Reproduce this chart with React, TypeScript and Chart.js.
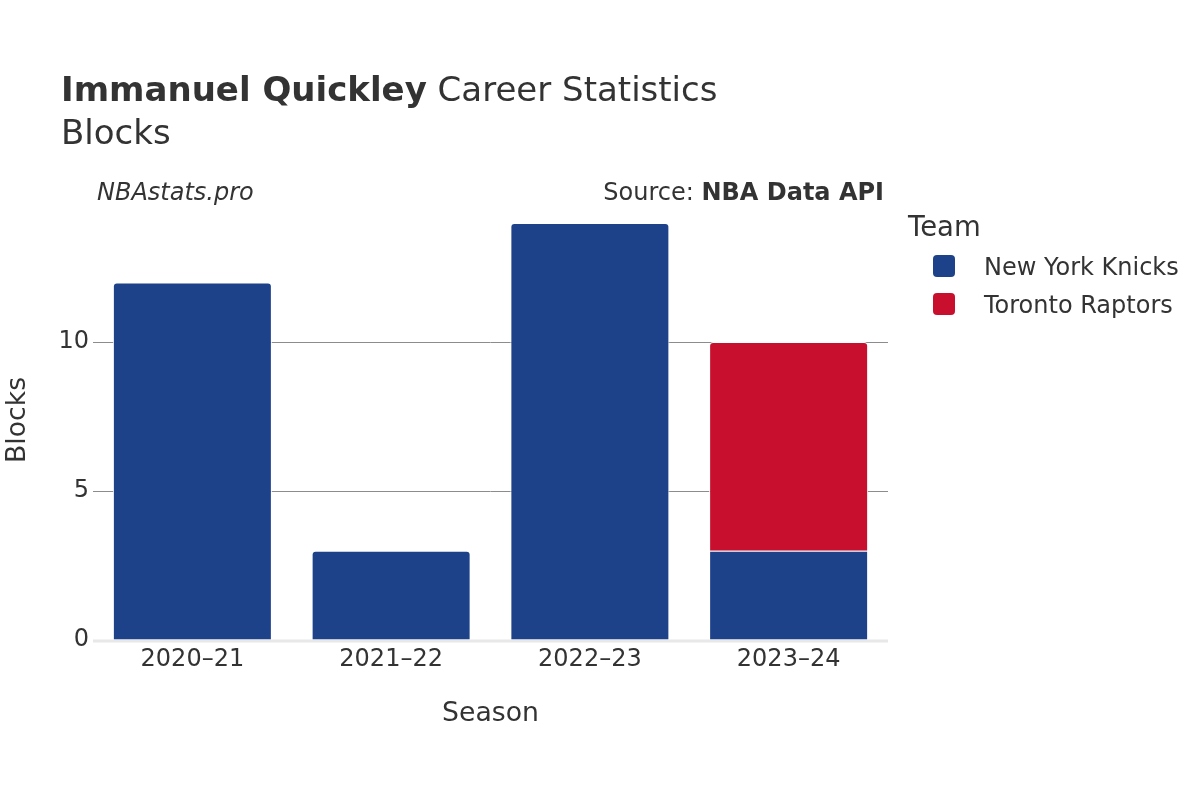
import React, { useEffect, useRef } from "react";
import { Chart, registerables } from "chart.js";

Chart.register(...registerables);

const seasons = ["2020–21", "2021–22", "2022–23", "2023–24"];
const knicksBlocks = [12, 3, 14, 3];
const raptorsBlocks = [0, 0, 0, 7];
const yTicks = [0, 5, 10];
const teamNames = ["New York Knicks", "Toronto Raptors"];
const teamColors = ["#1d428a", "#c8102e"];

const FONT = "'DejaVu Sans', sans-serif";
const TEXT = "#333333";

const overlay = {
  id: "overlay",
  beforeDatasetsDraw(chart: any) {
    const { ctx, chartArea } = chart;
    const y0 = chart.scales.y.getPixelForValue(0);
    ctx.save();
    ctx.strokeStyle = "#e8e8e8";
    ctx.lineWidth = 3;
    ctx.beginPath();
    ctx.moveTo(chartArea.left, y0 + 1);
    ctx.lineTo(chartArea.right, y0 + 1);
    ctx.stroke();
    ctx.restore();
  },
  afterDraw(chart: any) {
    const { ctx, chartArea } = chart;
    ctx.save();
    ctx.fillStyle = TEXT;
    ctx.textBaseline = "alphabetic";
    ctx.textAlign = "left";
    // Title
    ctx.font = `bold 34px ${FONT}`;
    const bold = "Immanuel Quickley";
    ctx.fillText(bold, 61, 101);
    const bw = ctx.measureText(bold).width;
    ctx.font = `34px ${FONT}`;
    ctx.fillText(" Career Statistics", 61 + bw, 101);
    ctx.fillText("Blocks", 61, 144);
    // Watermark
    ctx.font = `italic 24px ${FONT}`;
    ctx.fillText("NBAstats.pro", 97, 200);
    // Source
    ctx.textAlign = "right";
    ctx.font = `bold 24px ${FONT}`;
    const src = "NBA Data API";
    ctx.fillText(src, 884, 200);
    const sw = ctx.measureText(src).width;
    ctx.font = `24px ${FONT}`;
    ctx.fillText("Source: ", 884 - sw, 200);
    // Legend
    ctx.textAlign = "left";
    ctx.font = `27.5px ${FONT}`;
    ctx.fillText("Team", 908, 236);
    ctx.font = `24px ${FONT}`;
    teamNames.forEach((name, i) => {
      const cy = 266 + i * 38;
      ctx.fillStyle = teamColors[i];
      ctx.beginPath();
      (ctx as any).roundRect(933, cy - 11, 22, 22, 4);
      ctx.fill();
      ctx.fillStyle = TEXT;
      ctx.fillText(name, 984, cy + 9);
    });
    // Axis titles
    ctx.font = `26.7px ${FONT}`;
    ctx.textAlign = "center";
    ctx.fillText("Season", (chartArea.left + chartArea.right) / 2, 721);
    ctx.translate(25, 420);
    ctx.rotate(-Math.PI / 2);
    ctx.fillText("Blocks", 0, 0);
    ctx.restore();
  },
};

export default function App() {
  const ref = useRef<HTMLCanvasElement>(null);
  useEffect(() => {
    if (!ref.current) return;
    const chart = new Chart(ref.current, {
      type: "bar",
      data: {
        labels: seasons,
        datasets: [
          {
            label: teamNames[0],
            data: knicksBlocks,
            backgroundColor: teamColors[0],
            borderColor: "#ffffff",
            borderWidth: 1,
            borderRadius: 4,
            borderSkipped: "start",
          },
          {
            label: teamNames[1],
            data: raptorsBlocks,
            backgroundColor: teamColors[1],
            borderColor: "#ffffff",
            borderWidth: 1,
            borderRadius: 4,
            borderSkipped: "start",
          },
        ],
      },
      options: {
        responsive: false,
        animation: false,
        layout: { padding: { left: 0, right: 312, top: 201, bottom: 0 } },
        plugins: { legend: { display: false }, tooltip: { enabled: false }, title: { display: false } },
        datasets: { bar: { categoryPercentage: 1, barPercentage: 0.8 } },
        scales: {
          x: {
            stacked: true,
            grid: { display: false, drawTicks: false },
            border: { display: false },
            ticks: { color: TEXT, font: { family: FONT, size: 24 }, padding: 5, maxRotation: 0 },
            afterFit: (s: any) => { s.height = 160; },
          },
          y: {
            stacked: true,
            min: 0,
            max: 14.737,
            grid: {
              drawTicks: false,
              color: (c: any) => (c.tick && c.tick.value === 0 ? "rgba(0,0,0,0)" : "#8c8c8c"),
              lineWidth: 1,
            },
            border: { display: false },
            ticks: { color: TEXT, font: { family: FONT, size: 24 }, padding: 4, stepSize: 5 },
            afterBuildTicks: (s: any) => { s.ticks = yTicks.map((v) => ({ value: v })); },
            afterFit: (s: any) => { s.width = 93; },
          },
        },
      },
      plugins: [overlay],
    });
    return () => chart.destroy();
  }, []);
  return (
    <div style={{ position: "absolute", left: 0, top: 0, width: 1200, height: 800, background: "#fff" }}>
      <canvas ref={ref} width={1200} height={800} />
    </div>
  );
}
